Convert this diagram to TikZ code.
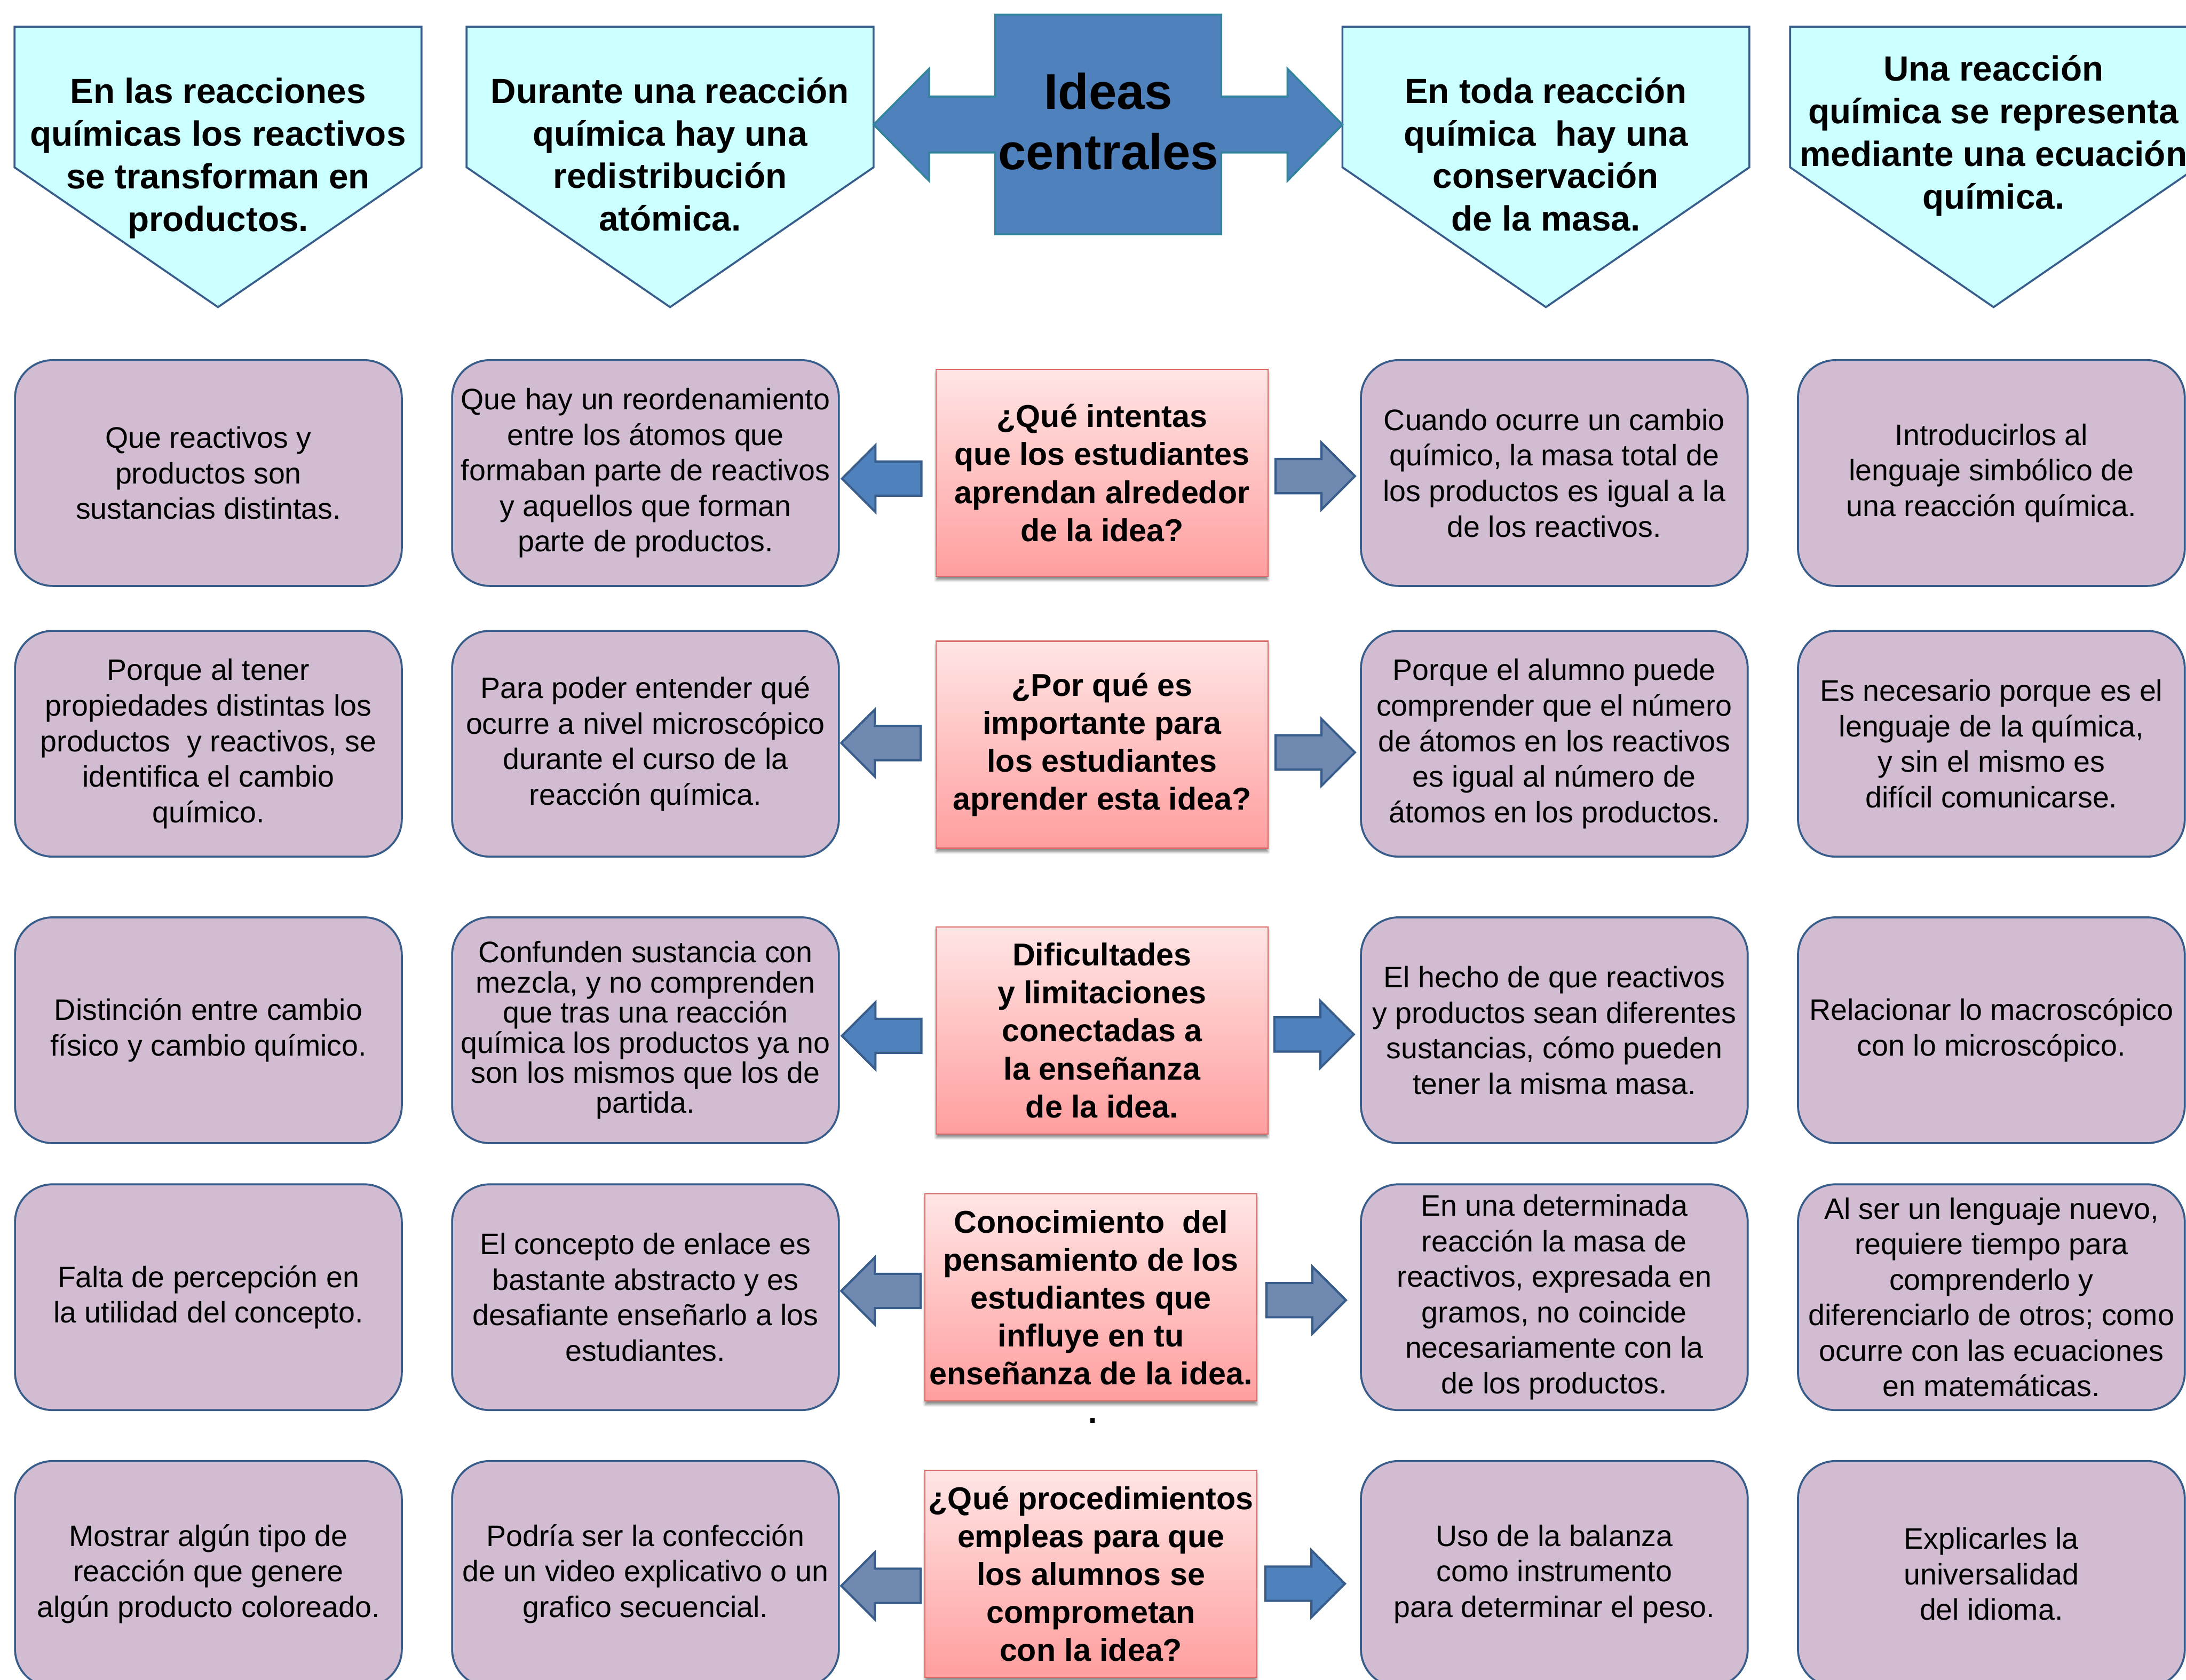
\documentclass[tikz,border=0pt]{standalone}
\usepackage{fontspec}
\setmainfont{Liberation Sans}
\usepackage{tikz}
\usetikzlibrary{positioning,shapes.arrows,shadows.blur}

\definecolor{cianclaro}{RGB}{204,255,255}
\definecolor{lila}{RGB}{209,188,210}
\definecolor{bordeazul}{RGB}{56,93,138}
\definecolor{azul}{RGB}{79,129,189}
\definecolor{azulgris}{RGB}{111,137,176}
\definecolor{verdeazul}{RGB}{49,132,155}
\definecolor{rosaarriba}{RGB}{255,229,229}
\definecolor{rosaabajo}{RGB}{255,158,158}
\definecolor{borderosa}{RGB}{218,106,104}

\begin{document}
\begin{tikzpicture}[
  x=0.02cm, y=-0.02cm,
  idea/.style={draw=bordeazul, line width=0.8pt, fill=cianclaro},
  ideatxt/.style={align=center, inner sep=0pt,
    font=\fontsize{14.3}{17.4}\selectfont\bfseries},
  central/.style={draw=verdeazul, line width=0.8pt, fill=azul},
  resp/.style={
    rectangle, rounded corners=0.54cm,
    draw=bordeazul, line width=0.8pt, fill=lila,
    minimum width=5.55cm, minimum height=3.24cm,
    align=center, inner sep=2pt,
    font=\fontsize{12.1}{14.5}\selectfont,
    execute at begin node={\rule{0pt}{11.7pt}}
  },
  preg/.style={
    rectangle, draw=borderosa, line width=0.5pt,
    top color=rosaarriba, bottom color=rosaabajo,
    minimum width=4.76cm, minimum height=2.97cm,
    align=center, inner sep=1pt,
    font=\fontsize{12.9}{15.5}\selectfont\bfseries,
    execute at begin node={\rule{0pt}{12.8pt}},
    blur shadow={shadow xshift=0pt, shadow yshift=-1.5pt,
      shadow blur radius=1pt, shadow opacity=45}
  },
  flecha/.style={
    single arrow, draw=bordeazul, line width=0.9pt,
    inner xsep=0pt, inner ysep=0.23cm,
    single arrow head extend=0.235cm,
    minimum height=1.14cm, anchor=tip
  },
  izq/.style={flecha, shape border rotate=180},
  der/.style={flecha},
  vivo/.style={fill=azul},
  gris/.style={fill=azulgris}
]

\useasboundingbox (0,0) rectangle (1568,1205);
\clip (0,0) rectangle (1568,1205);

% --- Ideas centrales (cabeceras) ---
\foreach \x in {10.4, 334.7, 962.9, 1284}
  \draw[idea] (\x,19.1) -- ++(291.9,0) -- ++(0,100.9)
    -- ++(-145.95,100.3) -- ++(-145.95,-100.3) -- cycle;

\node[ideatxt] (reac)  at (156.4,113.4) {En las reacciones\\químicas los reactivos\\se transforman en\\productos.};
\node[ideatxt] (redis) at (480.6,110.7) {Durante una reacción\\química hay una\\redistribución\\atómica.};
\node[ideatxt] (masa)  at (1108.8,110.7) {En toda reacción\\química\ \ hay una\\conservación\\de la masa.};
\node[ideatxt] (ecua)  at (1429.9,97.4) {Una reacción\\química se representa\\mediante una ecuación\\química.};

% --- Flecha doble con el titulo ---
\draw[central] (626.6,89.4) -- (666.4,49.3) -- (666.4,69.3) -- (713.8,69.3)
  -- (713.8,10.5) -- (876,10.5) -- (876,69.3) -- (923.5,69.3) -- (923.5,49.3)
  -- (962.9,89.4) -- (923.5,129.7) -- (923.5,109.4) -- (876,109.4) -- (876,168)
  -- (713.8,168) -- (713.8,109.4) -- (666.4,109.4) -- (666.4,129.7) -- cycle;
\node[align=center, inner sep=0pt, font=\fontsize{20.5}{24.8}\selectfont\bfseries]
  (titulo) at (795,87) {Ideas\\centrales};

% --- Preguntas ---
\node[preg] (que)    at (790.5,339.2) {¿Qué intentas\\que los estudiantes\\aprendan alrededor\\de la idea?};
\node[preg] (porque) at (790.5,534.2) {¿Por qué es\\importante para\\los estudiantes\\aprender esta idea?};
\node[preg] (dific)  at (790.5,739.1) {Dificultades\\y limitaciones\\conectadas a\\la enseñanza\\de la idea.};
\node[preg] (conoc)  at (782.5,930.7) {Conocimiento\ \ del\\pensamiento de los\\estudiantes que\\influye en tu\\enseñanza de la idea.};
\node[preg] (proced) at (782.5,1128.9) {¿Qué procedimientos\\empleas para que\\los alumnos se\\comprometan\\con la idea?};
\node[font=\fontsize{12.9}{15.5}\selectfont\bfseries, inner sep=0pt] (punto) at (784,1019) {.};

% --- Flechas hacia las respuestas ---
\node[izq, vivo] (la1) at (602.8,343.3) {};
\node[der, gris] (ra1) at (973,341.5) {};
\node[izq, gris] (la2) at (602.3,533) {};
\node[der, gris] (ra2) at (973,539.7) {};
\node[izq, vivo] (la3) at (602.8,743) {};
\node[der, vivo] (ra3) at (972.2,742) {};
\node[izq, gris] (la4) at (602.3,926) {};
\node[der, gris] (ra4) at (966.5,932.6) {};
\node[izq, gris] (la5) at (602.3,1137.5) {};
\node[der, vivo] (ra5) at (965.8,1136) {};

% --- Respuestas: reactivos y productos ---
\node[resp] (reac1) at (149.5,339.3) {Que reactivos y\\productos son\\sustancias distintas.};
\node[resp] (reac2) at (149.5,533.5) {Porque al tener\\propiedades distintas los\\productos\ \ y reactivos, se\\identifica el cambio\\químico.};
\node[resp] (reac3) at (149.5,739) {Distinción entre cambio\\físico y cambio químico.};
\node[resp] (reac4) at (149.5,930.5) {Falta de percepción en\\la utilidad del concepto.};
\node[resp] (reac5) at (149.5,1129) {Mostrar algún tipo de\\reacción que genere\\algún producto coloreado.};

% --- Respuestas: redistribucion atomica ---
\node[resp] (redis1) at (463,339.3) {Que hay un reordenamiento\\entre los átomos que\\formaban parte de reactivos\\y aquellos que forman\\parte de productos.};
\node[resp] (redis2) at (463,533.5) {Para poder entender qué\\ocurre a nivel microscópico\\durante el curso de la\\reacción química.};
\node[resp, font=\fontsize{12.1}{12.3}\selectfont] (redis3) at (463,739) {Confunden sustancia con\\mezcla, y no comprenden\\que tras una reacción\\química los productos ya no\\son los mismos que los de\\partida.};
\node[resp] (redis4) at (463,930.5) {El concepto de enlace es\\bastante abstracto y es\\desafiante enseñarlo a los\\estudiantes.};
\node[resp] (redis5) at (463,1129) {Podría ser la confección\\de un video explicativo o un\\grafico secuencial.};

% --- Respuestas: conservacion de la masa ---
\node[resp] (masa1) at (1114.9,339.3) {Cuando ocurre un cambio\\químico, la masa total de\\los productos es igual a la\\de los reactivos.};
\node[resp] (masa2) at (1114.9,533.5) {Porque el alumno puede\\comprender que el número\\de átomos en los reactivos\\es igual al número de\\átomos en los productos.};
\node[resp] (masa3) at (1114.9,739) {El hecho de que reactivos\\y productos sean diferentes\\sustancias, cómo pueden\\tener la misma masa.};
\node[resp] (masa4) at (1114.9,930.5) {En una determinada\\reacción la masa de\\reactivos, expresada en\\gramos, no coincide\\necesariamente con la\\de los productos.};
\node[resp] (masa5) at (1114.9,1129) {Uso de la balanza\\como instrumento\\para determinar el peso.};

% --- Respuestas: ecuacion quimica ---
\node[resp] (ecua1) at (1428.4,339.3) {Introducirlos al\\lenguaje simbólico de\\una reacción química.};
\node[resp] (ecua2) at (1428.4,533.5) {Es necesario porque es el\\lenguaje de la química,\\y sin el mismo es\\difícil comunicarse.};
\node[resp] (ecua3) at (1428.4,739) {Relacionar lo macroscópico\\con lo microscópico.};
\node[resp] (ecua4) at (1428.4,930.5) {Al ser un lenguaje nuevo,\\requiere tiempo para\\comprenderlo y\\diferenciarlo de otros; como\\ocurre con las ecuaciones\\en matemáticas.};
\node[resp] (ecua5) at (1428.4,1129) {Explicarles la\\universalidad\\del idioma.};

\end{tikzpicture}
\end{document}
